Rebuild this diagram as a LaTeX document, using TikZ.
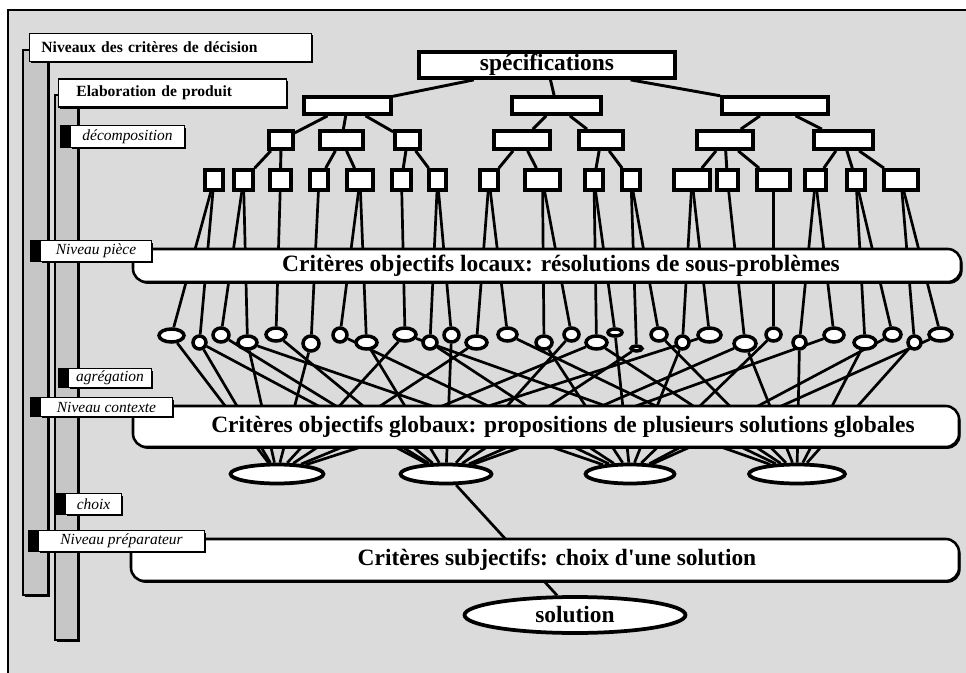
\documentclass[tikz,border=0pt]{standalone}
\usepackage{fontspec}
\setmainfont{Liberation Serif}
\usetikzlibrary{shapes.geometric,shadows}
\pgfdeclarelayer{bg}
\pgfdeclarelayer{wires}
\pgfsetlayers{bg,wires,main}

\tikzset{
  sz/.style 2 args={minimum width=(#1)*0.03cm, minimum height=(#2)*0.03cm},
  boxshadow/.style={drop shadow={shadow xshift=1.4pt, shadow yshift=-1.6pt, fill=black, opacity=1}},
  cell/.style={draw, fill=white, line width=3.2pt, inner sep=0pt},
  oval/.style={draw, ellipse, fill=white, line width=3pt, inner sep=0pt},
  tree/.style={line width=2.5pt},
  wire/.style={line width=2.3pt},
  band/.style={draw, fill=white, line width=2.2pt, rounded corners=0.4cm, boxshadow, inner sep=0pt},
  big/.style={font=\bfseries\fontsize{20}{24}\selectfont},
  bandtext/.style={big, inner sep=0pt},
  head/.style={draw, fill=white, line width=1.6pt, boxshadow, align=left, inner ysep=0pt,
    font=\bfseries\fontsize{13.3}{16}\selectfont},
  tag/.style={draw, fill=white, line width=1.2pt, boxshadow, inner sep=0pt,
    font=\itshape\fontsize{13.2}{16}\selectfont},
  bar/.style={draw, fill=gray!45, line width=1.2pt, boxshadow},
}

\begin{document}
\begin{tikzpicture}[x=0.03cm, y=-0.03cm]
  \useasboundingbox (0,0) rectangle (966,673);

  %background, frame and the two level bars
  \begin{pgfonlayer}{bg}
    \fill[white] (0,0) rectangle (966,673);
    \fill[gray!28] (8,10) rectangle (966,673);
    \draw[line width=2.4pt] (8,673) -- (8,10) -- (966,10);
    \draw[bar] (23,50) rectangle (48,595);
    \draw[bar] (55,95) rectangle (78,640);
  \end{pgfonlayer}

  %level headers
  \node[head, text width=7.74cm, inner xsep=0.36cm, minimum height=0.84cm] (crit) at (170.5,47.5)
    {Niveaux des critères de décision};
  \node[head, text width=5.76cm, inner xsep=0.54cm, minimum height=0.86cm] (elab) at (172.5,93)
    {Elaboration de produit};

  %decomposition tree
  \node[cell, big, sz={256}{26}] (spec) at (547,65) {spécifications};
  \foreach \a/\b [count=\i] in {302/393,510/603,720/830}
    \node[cell, sz={\b-\a-4}{17}] (l\i) at ({(\a+\b)/2},105.5) {};
  \foreach \a/\b [count=\i] in {267/295,318/365,393/422,492/552,577/625,695/755,812/875}
    \node[cell, sz={\b-\a-4}{18}] (m\i) at ({(\a+\b)/2},140) {};
  \foreach \a/\b [count=\i] in {203/225,232/255,268/293,308/330,345/375,390/413,427/448,
      478/500,523/562,583/605,620/642,672/712,715/740,755/792,803/828,845/867,882/920}
    \node[cell, sz={\b-\a-4}{20}] (f\i) at ({(\a+\b)/2},180) {};

  %sub-problem solutions
  \foreach \x/\y/\w/\h [count=\i] in {171.5/335.5/27/15, 199.5/342.5/15/15, 221/335/18/16,
      247.5/342.5/21/15, 276/334.5/22/15, 311/343.5/18/17, 340/335/16/16, 366.5/342.5/23/15,
      405/334.5/24/15, 430/342.5/16/15, 451.5/335/17/16, 476.5/342.5/23/15, 507.5/334.5/21/15,
      544/342.5/18/15, 571.5/334.5/17/15, 596.5/342.5/23/15, 615/332.5/16/9, 636.5/348.5/13/7,
      659/334.5/18/15, 682.5/342.5/15/15, 709.5/335/25/16, 745/343.5/24/17, 773.5/334.5/17/15,
      799.5/342.5/15/15, 834/335/22/16, 865/342.5/24/15, 892.5/334.5/19/15, 914.5/342.5/15/15,
      940.5/334.5/25/15}
    \node[oval, sz={\w-2}{\h-2}] (e\i) at (\x,\y) {};

  %global solutions and the chosen one
  \foreach \x/\w [count=\i] in {277/97,446/95,630/93,797/100}
    \node[oval, line width=3.2pt, sz={\w-4}{19}] (g\i) at (\x,474) {};
  \node[oval, big, line width=3.2pt, sz={221}{36}] (sol) at (575,615) {solution};

  %criteria bands
  \node[band, sz={828}{33}] (loc) at (547,265.5) {};
  \node[bandtext] (loctxt) at ([xshift=0.42cm]loc.center)
    {Critères objectifs locaux: résolutions de sous-problèmes};
  \node[band, sz={826}{41}] (glob) at (546,426.5) {};
  \node[bandtext] (globtxt) at ([xshift=0.51cm]glob.center)
    {Critères objectifs globaux: propositions de plusieurs solutions globales};
  \node[band, sz={828}{42}] (subj) at (545,560) {};
  \node[bandtext] (subjtxt) at ([xshift=0.36cm]subj.center)
    {Critères subjectifs: choix d\textquotesingle une solution};

  %connectors, behind everything
  \begin{pgfonlayer}{wires}
    \foreach \p/\c in {spec/l1,spec/l2,spec/l3,l1/m1,l1/m2,l1/m3,l2/m4,l2/m5,l3/m6,l3/m7,
        m1/f2,m1/f3,m2/f4,m2/f5,m3/f6,m3/f7,m4/f8,m4/f9,m5/f10,m5/f11,
        m6/f12,m6/f13,m6/f14,m7/f15,m7/f16,m7/f17}
      \draw[tree] (\p) -- (\c);
    \foreach \f/\e in {1/1,1/2,2/3,2/4,3/5,4/6,5/7,5/8,6/9,7/10,7/11,8/12,8/13,9/14,9/15,
        10/16,10/17,11/18,11/19,12/20,12/21,13/22,14/23,15/24,15/25,16/26,16/27,17/28,17/29}
      \draw[wire] (f\f) -- (e\e);
    \foreach \e/\g in {1/1,2/1,2/2,3/2,4/1,4/3,5/2,6/1,7/3,8/2,9/1,9/4,10/3,11/2,12/1,13/4,
        14/3,15/2,16/1,16/4,17/3,18/2,19/4,20/3,21/1,22/2,22/4,23/3,24/4,25/2,26/4,27/3,
        28/4,29/3}
      \draw[wire] (e\e) -- (g\g);
    \draw[wire] (g2) -- (sol);
  \end{pgfonlayer}

  %level tags with their black tabs
  \foreach \n/\a/\b/\c/\d/\t in {dec/70/185/125/148/décomposition,
      piece/40/152/240/262/Niveau pièce, agr/68/152/368/388/agrégation,
      ctx/40/173/397/417/Niveau contexte, cho/65/122/493/515/choix,
      prep/38/205/530/552/Niveau préparateur} {
    \node[tag, sz={\b-\a-1.5}{\d-\c-1.5}] (\n) at ({(\a+\b)/2},{(\c+\d)/2}) {\t};
    \fill ([xshift=-0.3cm]\n.north west) rectangle (\n.south west);
  }
\end{tikzpicture}
\end{document}
